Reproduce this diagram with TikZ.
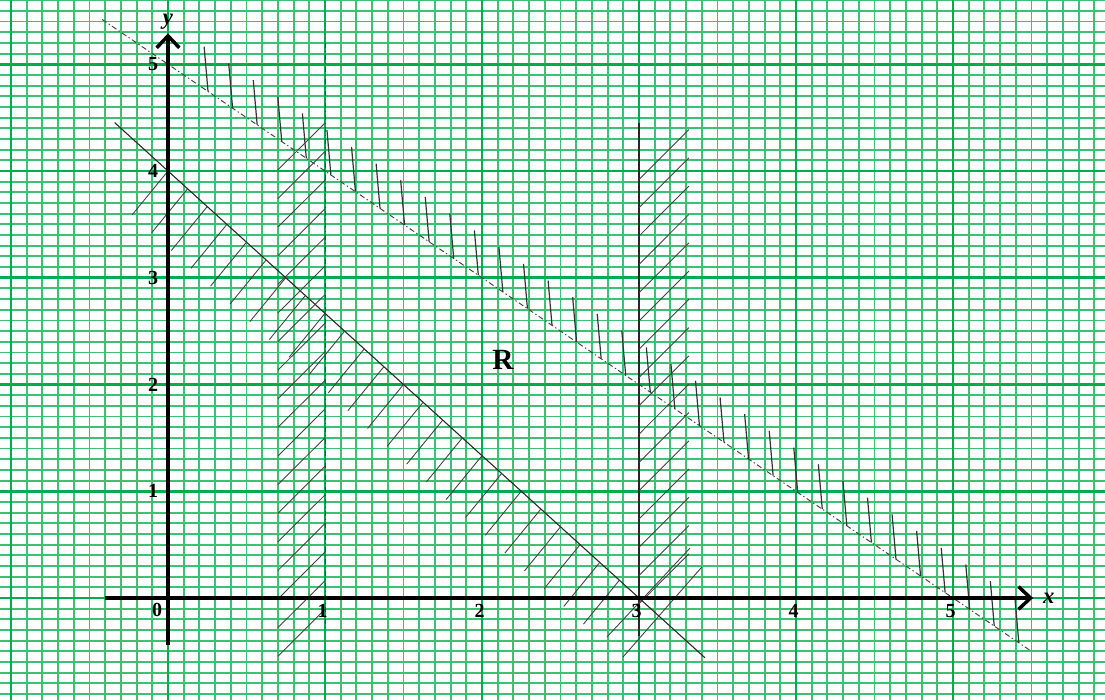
\documentclass[tikz,border=0pt]{standalone}
\usepackage{fontspec}
\setmainfont{Liberation Serif}
\usetikzlibrary{arrows.meta}
\definecolor{gridminor}{RGB}{60,192,115}
\definecolor{gridmajor}{RGB}{0,172,78}
\begin{document}
\begin{tikzpicture}[x=117.75pt,y=80.0625pt,
  minor/.style={gridminor,line width=1.4pt},
  major/.style={gridmajor,line width=2pt},
  axis/.style={line width=2.6pt,-{Straight Barb[length=9pt,width=17pt]}},
  bound/.style={line width=0.8pt,black!85},
  dashbound/.style={line width=0.7pt,black!75,dash pattern=on 4pt off 2pt on 1pt off 2pt},
  hatch/.style={line width=0.65pt,black!75},
  vhatch/.style={line width=0.9pt,black!80},
  num/.style={font=\bfseries\fontsize{15}{15}\selectfont,inner sep=0pt},
  axlabel/.style={font=\bfseries\itshape\fontsize{17}{17}\selectfont,inner sep=0pt}]
\useasboundingbox (-1.0701,-0.9555) rectangle (5.9682,5.6019);
\fill[white] (-1.0701,-0.9555) rectangle (5.9682,5.6019);
% grid
\foreach \i in {-10,...,59} \draw[minor] (\i/10,-0.9555) -- (\i/10,5.6019);
\foreach \j in {-9,...,56} \draw[minor] (-1.0701,\j/10) -- (5.9682,\j/10);
\foreach \i in {-1,...,5} \draw[major] (\i,-0.9555) -- (\i,5.6019);
\foreach \j in {0,...,5} \draw[major] (-1.0701,\j) -- (5.9682,\j);
% 4x+3y=12
\draw[bound] (-0.34,4.4533) -- (3.42,-0.56);
\foreach \k in {0,...,23}
  \draw[hatch] ({\k*0.125},{4-4*\k*0.125/3}) -- ++(-0.229,-0.412);
% x+y=5
\draw[dashbound] (-0.42,5.42) -- (5.5,-0.5);
\foreach \k in {0,...,33}
  \draw[vhatch] ({0.255+0.1565*\k},{4.745-0.1565*\k}) -- ++(-0.025,0.42);
% x=1
\draw[dashbound] (1,5.2) -- (1,-0.28);
\foreach \k in {0,...,17}
  \draw[hatch] (1,{4.45-0.268*\k}) -- ++(-0.30,-0.44);
% x=3
\draw[bound] (3,4.45) -- (3,-0.36);
\foreach \k in {0,...,15}
  \draw[hatch] (3,{3.92-0.265*\k}) -- ++(0.318,0.468);
\draw[hatch] (2.796,-0.365) -- (3.325,0.468);
\draw[hatch] (2.898,-0.553) -- (3.40,0.29);
% axes
\draw[axis] (-0.40,0) -- (5.51,0);
\draw[axis] (0,-0.44) -- (0,5.29);
\node[axlabel] (xl) at (5.61,0) {x};
\node[axlabel] (yl) at (0,5.40) {y};
% numbers
\node[num] (o) at (-0.07,-0.115) {0};
\foreach \k in {1,...,5} \node[num] (xn\k) at (\k-0.015,-0.12) {\k};
\foreach \k in {1,...,5} \node[num] (yn\k) at (-0.095,\k) {\k};
\node[font=\bfseries\fontsize{22}{22}\selectfont,inner sep=0pt] (R) at (2.134,2.23) {R};
\end{tikzpicture}
\end{document}
